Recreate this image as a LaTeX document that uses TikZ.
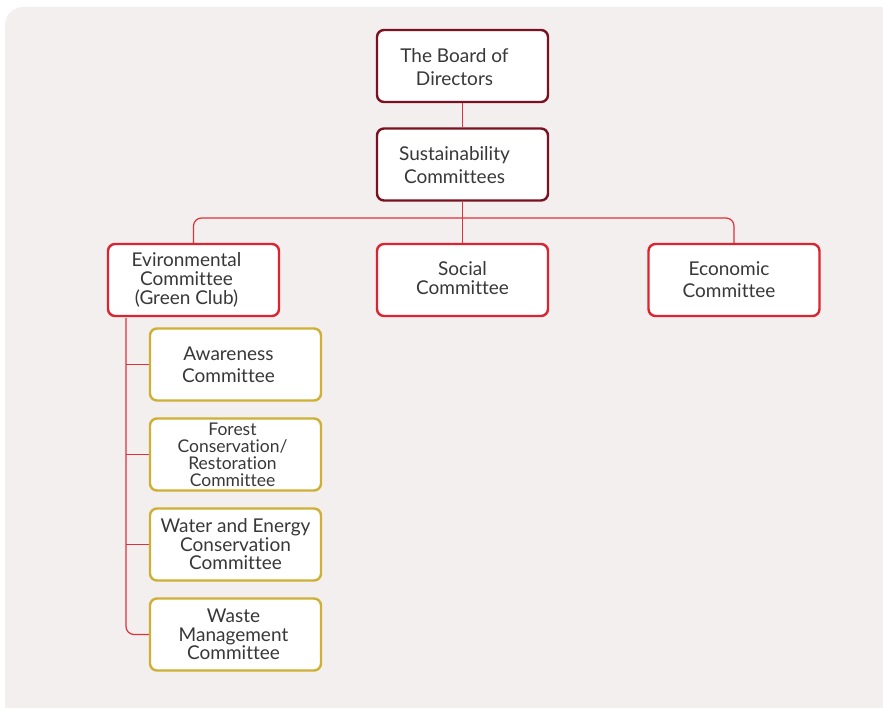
\documentclass[tikz,border=0pt]{standalone}
\usepackage{fontspec}
\setmainfont{Lato}[Ligatures=NoCommon]
\definecolor{bgc}{HTML}{F3EFEE}
\definecolor{darkred}{HTML}{7A1020}
\definecolor{redc}{HTML}{DA2530}
\definecolor{goldc}{HTML}{CDB035}
\definecolor{txt}{HTML}{383838}
\definecolor{linec}{HTML}{E0323A}
\pgfdeclarelayer{bgl}
\pgfdeclarelayer{back}
\pgfsetlayers{bgl,back,main}
\tikzset{
  box/.style={draw, line width=2.4pt, rounded corners=7pt, fill=white, minimum width=171pt, minimum height=72pt, inner sep=0pt},
  topbox/.style={box, draw=darkred},
  redbox/.style={box, draw=redc},
  goldbox/.style={box, draw=goldc},
  lbl/.style={align=center, text=txt, inner sep=0pt, font=\fontsize{19}{#1}\selectfont},
  lbl/.default=22,
  conn/.style={draw=linec, line width=1.2pt, rounded corners=8pt}
}
\begin{document}
\begin{tikzpicture}[x=1pt,y=-1pt]
\useasboundingbox (0,0) rectangle (883,708);
\clip (0,0) rectangle (883,708);
\begin{pgfonlayer}{bgl}
\fill[bgc, rounded corners=18pt] (5,7) rectangle (920,740);
\end{pgfonlayer}
\node[topbox] (board) at (462.5,66) {};
\node[topbox] (sust) at (462.5,164.5) {};
\node[redbox] (env) at (193.5,280) {};
\node[redbox] (soc) at (462.5,280) {};
\node[redbox] (eco) at (734,280) {};
\node[goldbox] (aw) at (235.5,364.5) {};
\node[goldbox] (fo) at (235.5,454.5) {};
\node[goldbox] (wa) at (235.5,544.5) {};
\node[goldbox] (ws) at (235.5,634.5) {};
\node[lbl=23] (tboard) at ([xshift=-8pt,yshift=-1pt]board.center) {The Board of\\Directors};
\node[lbl=23] (tsust) at ([xshift=-8pt,yshift=-1pt]sust.center) {Sustainability\\Committees};
\node[lbl=19] (tenv) at ([xshift=-7pt]env.center) {Evironmental\\Committee\\(Green Club)};
\node[lbl=19.5] (tsoc) at ([yshift=2pt]soc.center) {Social\\Committee};
\node[lbl=22] (teco) at ([xshift=-5pt]eco.center) {Economic\\Committee};
\node[lbl=22] (taw) at ([xshift=-7pt]aw.center) {Awareness\\Committee};
\node[lbl=17, font=\fontsize{17.5}{17}\selectfont] (tfo) at ([xshift=-3pt]fo.center) {Forest\\Conservation/\\Restoration\\Committee};
\node[lbl=18.5] (twa) at (wa.center) {Water and Energy\\Conservation\\Committee};
\node[lbl=18.5] (tws) at ([xshift=-2pt]ws.center) {Waste\\Management\\Committee};
\coordinate (vt) at (126,318);
\coordinate (b1) at (126,364.5);
\coordinate (b2) at (126,454.5);
\coordinate (b3) at (126,544.5);
\coordinate (hm) at (462.5,218);
\begin{pgfonlayer}{back}
\draw[conn] (board.south) -- (sust.north);
\draw[conn] (sust.south) -- (soc.north);
\draw[conn] (env.north) |- (hm) -| (eco.north);
\draw[conn] (vt) |- (ws.west);
\draw[conn] (b1) -- (aw.west);
\draw[conn] (b2) -- (fo.west);
\draw[conn] (b3) -- (wa.west);
\end{pgfonlayer}
\end{tikzpicture}
\end{document}
